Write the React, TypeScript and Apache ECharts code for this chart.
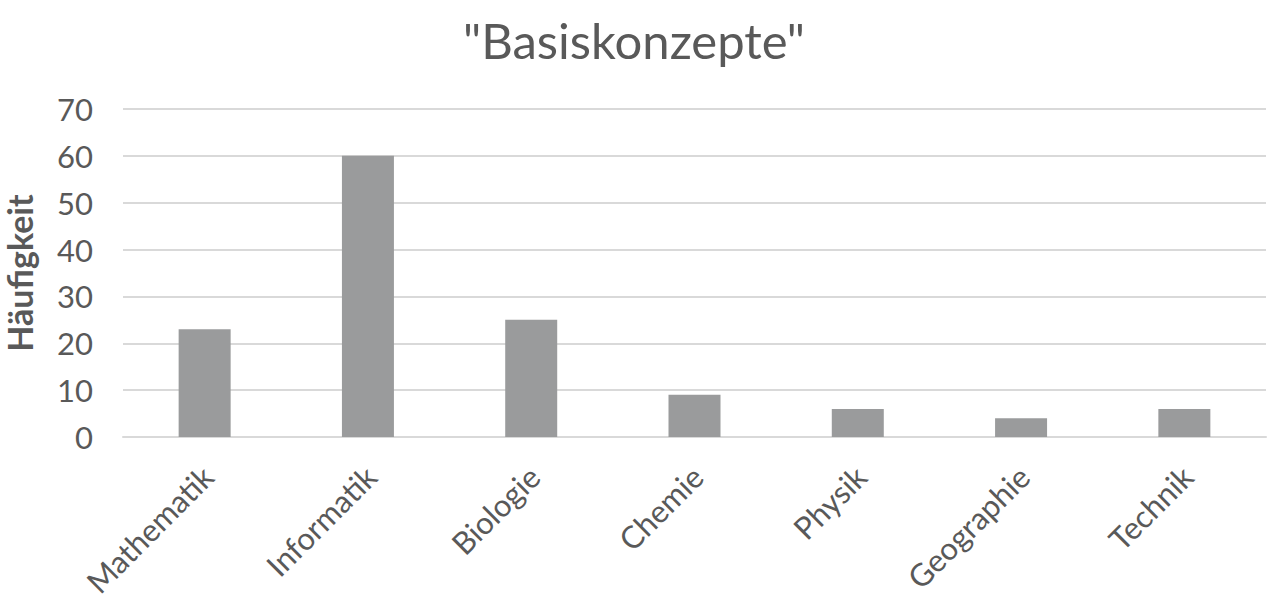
import React, { useEffect, useRef } from "react";
import * as echarts from "echarts";

const title = '"Basiskonzepte"';
const yAxisName = "Häufigkeit";
const categories = ["Mathematik", "Informatik", "Biologie", "Chemie", "Physik", "Geographie", "Technik"];
const values = [23, 60, 25, 9, 6, 4, 6];
const yMin = 0;
const yMax = 70;
const yInterval = 10;

const FONT = "Lato";
const TEXT = "#595959";

export default function App() {
  const ref = useRef<HTMLDivElement>(null);
  useEffect(() => {
    if (!ref.current) return;
    const chart = echarts.init(ref.current, null, { renderer: "svg" });
    chart.setOption({
      animation: false,
      backgroundColor: "#ffffff",
      title: {
        text: title,
        left: "center",
        top: 10,
        textStyle: { fontFamily: FONT, fontSize: 49, fontWeight: "normal", color: TEXT },
      },
      grid: { left: 123, right: 2, top: 109, bottom: 164, outerBoundsMode: "none", containLabel: false },
      xAxis: {
        type: "category",
        data: categories,
        axisLine: { show: true, lineStyle: { color: "#d9d9d9", width: 2 } },
        axisTick: { show: false },
        axisLabel: {
          rotate: 45,
          interval: 0,
          margin: 37,
          padding: [0, -4, 0, 0],
          fontFamily: FONT,
          fontSize: 31,
          color: TEXT,
        },
      },
      yAxis: {
        type: "value",
        min: yMin,
        max: yMax,
        interval: yInterval,
        name: yAxisName,
        nameLocation: "middle",
        nameGap: 87,
        nameTextStyle: { fontFamily: FONT, fontSize: 34, fontWeight: "bold", color: TEXT },
        axisLine: { show: false },
        axisTick: { show: false },
        splitLine: { lineStyle: { color: "#d9d9d9", width: 2 } },
        axisLabel: { fontFamily: FONT, fontSize: 31, color: TEXT, margin: 30 },
      },
      series: [
        {
          type: "bar",
          data: values,
          barWidth: 52,
          itemStyle: { color: "#9a9b9c" },
        },
      ],
    });
    return () => chart.dispose();
  }, []);
  return (
    <div
      ref={ref}
      style={{ position: "fixed", left: 0, top: 0, width: 1268, height: 601 }}
    />
  );
}
